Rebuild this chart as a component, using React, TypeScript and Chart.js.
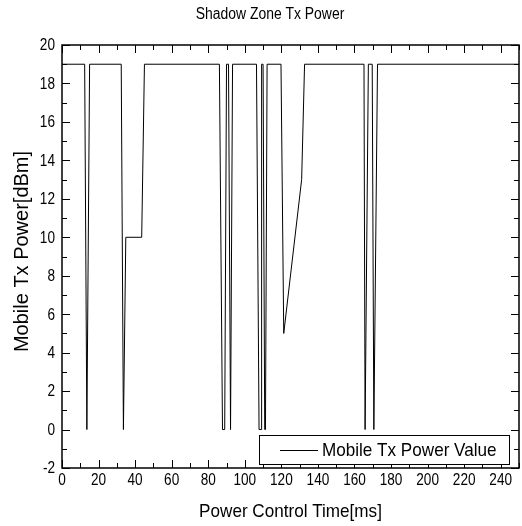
import React, { useEffect, useRef } from "react";
import { Chart, registerables } from "chart.js";

Chart.register(...registerables);

const chartTitle = "Shadow Zone Tx Power";
const xAxisTitle = "Power Control Time[ms]";
const yAxisTitle = "Mobile Tx Power[dBm]";
const seriesName = "Mobile Tx Power Value";

const timeMs = [
  0, 12.4, 13.6, 15.1, 32.4, 33.6, 34.9, 43.6, 45.1,
  86.1, 87.8, 89.0, 90.0, 91.1, 92.2, 93.3,
  106.4, 107.8, 109.1, 109.2, 110.0, 110.9, 111.3, 112.2,
  119.8, 121.3, 131.1, 132.7,
  165.2, 165.8, 167.6, 169.7, 170.6, 172.6, 250,
];
const txPowerDbm = [
  19, 19, 0, 19, 19, 0, 10, 10, 19,
  19, 0, 0, 19, 19, 0, 19,
  19, 0, 0, 19, 19, 0, 0, 19,
  19, 5, 13, 19,
  19, 0, 19, 19, 0, 19, 19,
];

const xTickLabels = [0, 20, 40, 60, 80, 100, 120, 140, 160, 180, 200, 220, 240];
const yTickLabels = [-2, 0, 2, 4, 6, 8, 10, 12, 14, 16, 18, 20];
const xRange = [0, 250];
const yRange = [-2, 20];

const FONT = "'Liberation Sans', Arial, sans-serif";

function drawText(
  ctx: CanvasRenderingContext2D,
  text: string,
  x: number,
  y: number,
  size: number,
  sx: number,
  align: CanvasTextAlign,
  baseline: CanvasTextBaseline,
  rot = 0
) {
  ctx.save();
  ctx.translate(x, y);
  if (rot) ctx.rotate(rot);
  ctx.scale(sx, 1);
  ctx.font = `${size}px ${FONT}`;
  ctx.textAlign = align;
  ctx.textBaseline = baseline;
  ctx.fillStyle = "#000";
  ctx.fillText(text, 0, 0);
  ctx.restore();
}

const framePlugin = {
  id: "frameTicks",
  afterDatasetsDraw(chart: any) {
    const { ctx, chartArea, scales } = chart;
    const { left, right, top, bottom } = chartArea;
    const xs = scales.x;
    const ys = scales.y;
    ctx.save();
    ctx.strokeStyle = "#000";
    ctx.lineWidth = 1;
    const seg = (x1: number, y1: number, x2: number, y2: number) => {
      ctx.beginPath();
      ctx.moveTo(x1, y1);
      ctx.lineTo(x2, y2);
      ctx.stroke();
    };
    const major = 8;
    const minor = 5;
    const xStep = xTickLabels[1] - xTickLabels[0];
    xTickLabels.forEach((v) => {
      const px = xs.getPixelForValue(v);
      const p = Math.round(px) + 0.5;
      seg(p, bottom, p, bottom - major);
      seg(p, top, p, top + major);
      drawText(ctx, String(v), px, bottom + 5, 16, 0.85, "center", "top");
      const m = v + xStep / 2;
      if (m <= xRange[1]) {
        const q = Math.round(xs.getPixelForValue(m)) + 0.5;
        seg(q, bottom, q, bottom - minor);
        seg(q, top, q, top + minor);
      }
    });
    const yStep = yTickLabels[1] - yTickLabels[0];
    yTickLabels.forEach((v) => {
      const py = ys.getPixelForValue(v);
      const p = Math.round(py) + 0.5;
      seg(left, p, left + major, p);
      seg(right, p, right - major, p);
      drawText(ctx, String(v), left - 7, py + 1, 16, 0.85, "right", "middle");
      const m = v + yStep / 2;
      if (m <= yRange[1]) {
        const q = Math.round(ys.getPixelForValue(m)) + 0.5;
        seg(left, q, left + minor, q);
        seg(right, q, right - minor, q);
      }
    });
    ctx.lineWidth = 1.5;
    ctx.strokeRect(left, top, right - left, bottom - top);

    // legend box
    const bw = 250;
    const bh = 29;
    const bx = right - 10 - bw;
    const by = bottom - 4 - bh;
    ctx.fillStyle = "#fff";
    ctx.fillRect(bx, by, bw, bh);
    ctx.lineWidth = 1;
    ctx.strokeRect(Math.round(bx) + 0.5, Math.round(by) + 0.5, bw, bh);
    const ly = Math.round(by + bh / 2) + 0.5;
    seg(bx + 21, ly, bx + 59, ly);
    drawText(ctx, chart.data.datasets[0].label, bx + 63, by + bh / 2 + 1, 19, 0.9, "left", "middle");

    // titles
    drawText(ctx, chartTitle, 270, 15, 16, 0.87, "center", "middle");
    drawText(ctx, xAxisTitle, (left + right) / 2, 512, 19, 0.9, "center", "middle");
    drawText(ctx, yAxisTitle, 22, (top + bottom) / 2 - 5, 20, 1.0, "center", "middle", -Math.PI / 2);
    ctx.restore();
  },
};

export default function App() {
  const ref = useRef<HTMLCanvasElement | null>(null);
  useEffect(() => {
    if (!ref.current) return;
    const chart = new Chart(ref.current, {
      type: "line",
      data: {
        datasets: [
          {
            label: seriesName,
            data: timeMs.map((t, i) => ({ x: t, y: txPowerDbm[i] })),
            borderColor: "#000",
            borderWidth: 1,
            pointRadius: 0,
            tension: 0,
            fill: false,
          },
        ],
      },
      options: {
        responsive: false,
        animation: false,
        layout: { padding: { top: 45, left: 0, right: 3, bottom: 0 } },
        plugins: {
          legend: { display: false },
          tooltip: { enabled: false },
          title: { display: false },
        },
        scales: {
          x: {
            type: "linear",
            min: xRange[0],
            max: xRange[1],
            afterBuildTicks: (s: any) => {
              s.ticks = xTickLabels.map((v) => ({ value: v }));
            },
            afterFit: (s: any) => {
              s.height = 58;
            },
            grid: { display: false, drawTicks: false },
            border: { display: false },
            ticks: { display: false },
          },
          y: {
            type: "linear",
            min: yRange[0],
            max: yRange[1],
            afterBuildTicks: (s: any) => {
              s.ticks = yTickLabels.map((v) => ({ value: v }));
            },
            afterFit: (s: any) => {
              s.width = 62;
            },
            grid: { display: false, drawTicks: false },
            border: { display: false },
            ticks: { display: false },
          },
        },
      },
      plugins: [framePlugin],
    });
    return () => chart.destroy();
  }, []);
  return (
    <div style={{ position: "fixed", left: 0, top: 0, width: 522, height: 526, background: "#fff" }}>
      <canvas ref={ref} width={522} height={526} />
    </div>
  );
}
